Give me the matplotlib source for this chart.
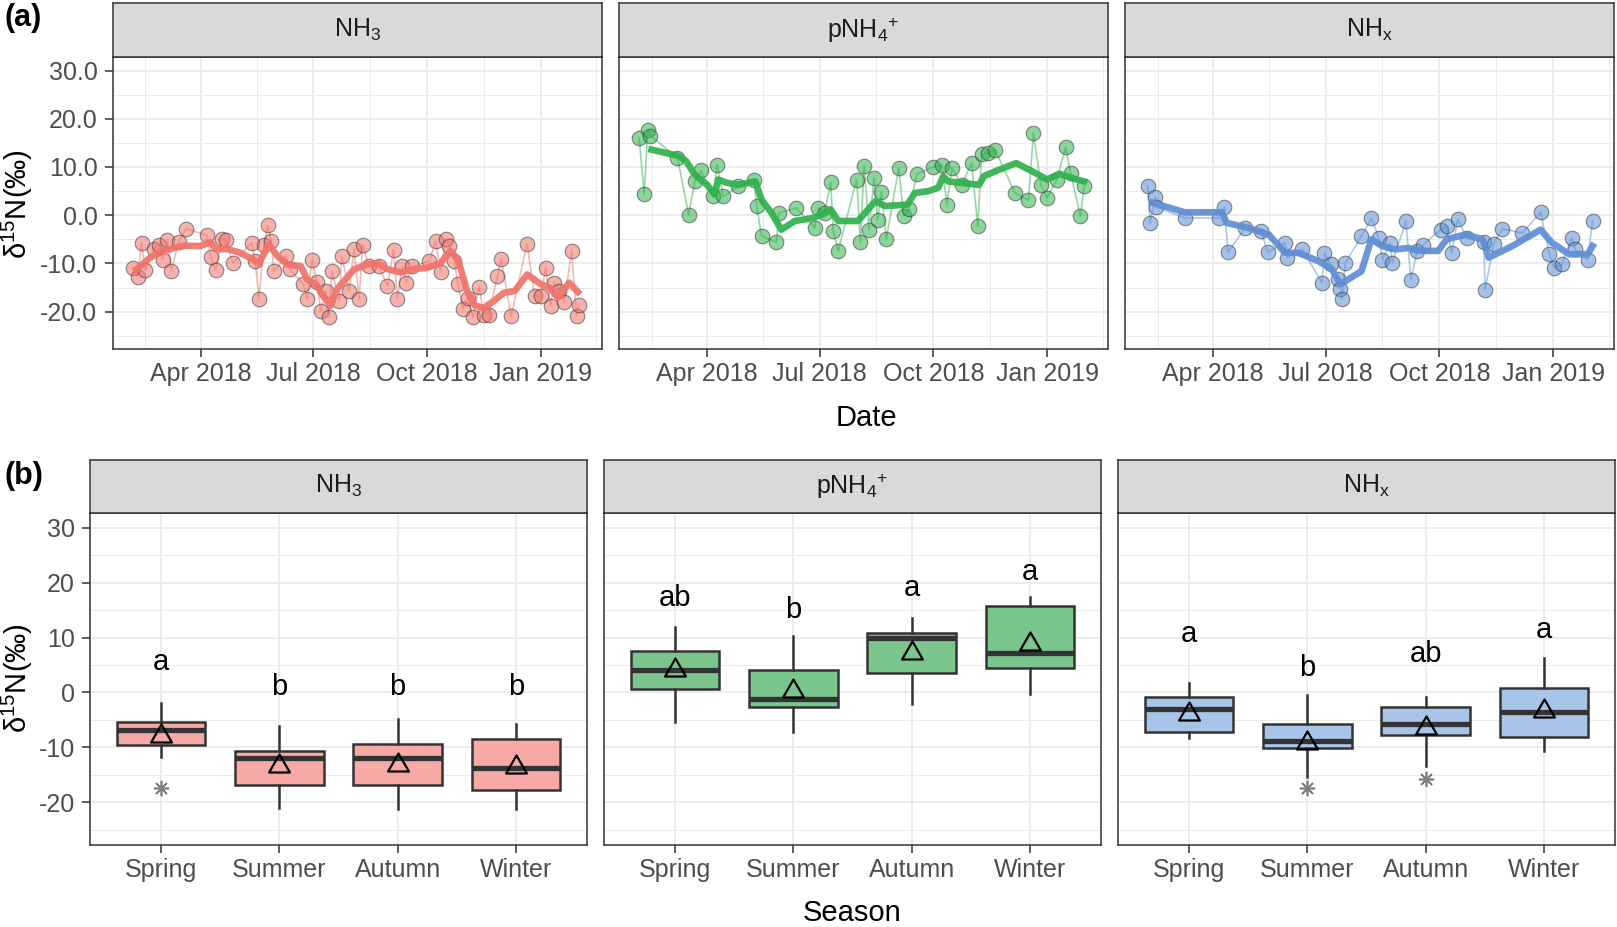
import matplotlib
matplotlib.use("Agg")
import matplotlib.pyplot as plt
import matplotlib.dates as mdates
import matplotlib.ticker as mticker
from matplotlib.colors import to_rgba
from matplotlib.path import Path
import pandas as pd

plt.rcParams['font.family'] = ['Liberation Sans', 'DejaVu Sans']
plt.rcParams['mathtext.fontset'] = 'custom'
plt.rcParams['mathtext.rm'] = 'Liberation Sans'
plt.rcParams['mathtext.it'] = 'Liberation Sans:italic'
plt.rcParams['mathtext.bf'] = 'Liberation Sans:bold'
plt.rcParams['axes.unicode_minus'] = False

# ---------------- data: (a) time series ----------------
species = ['NH$_\\mathrm{3}$', 'pNH$_\\mathrm{4}$$^\\mathrm{+}$', 'NH$_\\mathrm{x}$']
line_colors = ['#F0736A', '#2FB14D', '#5E8ED5']
box_fills = ['#F7AAA5', '#7BC68C', '#A8C4E8']

nh3_dates = ['2018-02-05', '2018-02-09', '2018-02-12', '2018-02-15', '2018-02-22', '2018-02-26',
             '2018-03-01', '2018-03-05', '2018-03-08', '2018-03-14', '2018-03-20', '2018-04-06',
             '2018-04-09', '2018-04-13', '2018-04-18', '2018-04-21', '2018-04-27', '2018-05-12',
             '2018-05-15', '2018-05-18', '2018-05-22', '2018-05-25', '2018-05-28', '2018-05-30',
             '2018-06-09', '2018-06-12', '2018-06-23', '2018-06-26', '2018-06-30', '2018-07-04',
             '2018-07-07', '2018-07-11', '2018-07-14', '2018-07-16', '2018-07-22', '2018-07-24',
             '2018-07-30', '2018-08-03', '2018-08-07', '2018-08-10', '2018-08-15', '2018-08-23',
             '2018-08-30', '2018-09-04', '2018-09-07', '2018-09-11', '2018-09-14', '2018-09-19',
             '2018-10-03', '2018-10-08', '2018-10-12', '2018-10-16', '2018-10-19', '2018-10-23',
             '2018-10-26', '2018-10-30', '2018-11-03', '2018-11-07', '2018-11-12', '2018-11-16',
             '2018-11-20', '2018-11-27', '2018-11-30', '2018-12-08', '2018-12-21', '2018-12-27',
             '2019-01-01', '2019-01-05', '2019-01-09', '2019-01-12', '2019-01-16', '2019-01-20',
             '2019-01-26', '2019-01-30', '2019-02-01']
nh3_vals = [-10.9, -12.8, -5.7, -11.4, -7.0, -6.1, -9.3, -5.2, -11.6, -5.6, -2.8, -4.2,
            -8.6, -11.4, -5.0, -5.2, -9.9, -5.7, -9.5, -17.3, -6.1, -2.1, -5.4, -11.6,
            -8.5, -11.2, -14.3, -17.3, -9.3, -13.9, -19.9, -15.7, -21.2, -11.6, -17.8, -8.5,
            -15.7, -7.0, -17.4, -6.1, -10.6, -10.6, -14.7, -7.2, -17.3, -10.6, -14.0, -10.6,
            -9.5, -5.4, -11.8, -4.9, -6.4, -9.5, -14.3, -19.5, -17.1, -21.2, -14.8, -20.6,
            -20.6, -12.6, -9.0, -21.0, -5.9, -16.8, -16.8, -10.9, -18.8, -14.0, -15.7, -18.1,
            -7.4, -20.9, -18.7]
nh3_smooth_dates = ['2018-02-08', '2018-02-19', '2018-03-02', '2018-03-18', '2018-03-31', '2018-04-09',
                    '2018-04-13', '2018-04-22', '2018-05-03', '2018-05-14', '2018-05-18', '2018-05-26',
                    '2018-06-02', '2018-06-10', '2018-06-21', '2018-06-26', '2018-07-03', '2018-07-08',
                    '2018-07-15', '2018-07-20', '2018-07-27', '2018-08-03', '2018-08-14', '2018-08-22',
                    '2018-08-30', '2018-09-10', '2018-09-20', '2018-10-01', '2018-10-12', '2018-10-20',
                    '2018-10-26', '2018-11-03', '2018-11-09', '2018-11-16', '2018-11-24', '2018-12-02',
                    '2018-12-11', '2018-12-21', '2019-01-01', '2019-01-08', '2019-01-15', '2019-01-24',
                    '2019-01-31']
nh3_smooth_vals = [-11.2, -8.8, -7.4, -6.3, -6.4, -5.6, -7.1, -7.0, -7.8, -9.3, -10.0, -6.1,
                   -8.5, -10.2, -10.6, -13.3, -14.3, -16.4, -18.8, -15.4, -13.3, -11.2, -10.2, -9.9,
                   -11.2, -11.9, -11.2, -10.9, -9.9, -7.4, -9.2, -16.1, -18.8, -19.2, -17.8, -16.1,
                   -15.7, -12.3, -14.3, -15.0, -17.1, -14.0, -15.9]

nh4_dates = ['2018-02-05', '2018-02-09', '2018-02-12', '2018-02-14', '2018-03-08', '2018-03-17',
             '2018-03-22', '2018-03-27', '2018-04-06', '2018-04-09', '2018-04-14', '2018-04-26',
             '2018-05-09', '2018-05-11', '2018-05-15', '2018-05-27', '2018-05-29', '2018-06-12',
             '2018-06-27', '2018-06-30', '2018-07-05', '2018-07-10', '2018-07-12', '2018-07-16',
             '2018-07-31', '2018-08-03', '2018-08-06', '2018-08-10', '2018-08-14', '2018-08-17',
             '2018-08-20', '2018-08-24', '2018-09-03', '2018-09-07', '2018-09-11', '2018-09-18',
             '2018-10-01', '2018-10-08', '2018-10-12', '2018-10-16', '2018-10-24', '2018-11-01',
             '2018-11-06', '2018-11-09', '2018-11-14', '2018-11-20', '2018-12-06', '2018-12-17',
             '2018-12-21', '2018-12-27', '2019-01-01', '2019-01-09', '2019-01-16', '2019-01-20',
             '2019-01-28', '2019-01-31']
nh4_vals = [16.0, 4.3, 17.7, 16.5, 11.9, 0.1, 7.0, 9.3, 3.9, 10.5, 3.9, 6.0,
            7.4, 2.0, -4.3, -5.6, 0.5, 1.5, -2.6, 1.5, 0.5, 6.8, -3.3, -7.4,
            7.4, -5.6, 10.3, -3.0, 7.7, -0.9, 4.8, -4.9, 9.8, -0.1, 1.2, 8.6,
            10.0, 10.5, 2.2, 9.8, 6.3, 10.8, -2.3, 12.6, 12.9, 13.6, 4.6, 3.1,
            17.0, 6.3, 3.6, 7.4, 14.1, 8.8, -0.2, 6.0]
nh4_smooth_dates = ['2018-02-15', '2018-03-09', '2018-03-15', '2018-03-22', '2018-04-01', '2018-04-07',
                    '2018-04-10', '2018-04-17', '2018-04-26', '2018-05-10', '2018-05-15', '2018-05-23',
                    '2018-05-31', '2018-06-11', '2018-06-25', '2018-07-03', '2018-07-10', '2018-07-16',
                    '2018-08-01', '2018-08-08', '2018-08-15', '2018-08-23', '2018-09-10', '2018-09-16',
                    '2018-09-27', '2018-10-05', '2018-10-09', '2018-10-13', '2018-10-24', '2018-11-07',
                    '2018-11-11', '2018-11-20', '2018-12-07', '2018-12-20', '2019-01-01', '2019-01-11',
                    '2019-01-21', '2019-01-31']
nh4_smooth_vals = [13.6, 12.3, 11.2, 8.4, 6.3, 4.3, 7.4, 6.7, 6.3, 7.0, 3.2, 0.5,
                   -3.0, -1.2, -0.6, 0.1, 1.2, -1.2, -1.2, 0.8, 2.9, 1.9, 2.2, 4.6,
                   5.0, 5.7, 8.1, 7.0, 6.7, 6.3, 8.1, 9.1, 10.8, 9.1, 7.4, 8.6,
                   7.7, 7.0]

nhx_dates = ['2018-02-07', '2018-02-09', '2018-02-13', '2018-02-14', '2018-03-09', '2018-04-06',
             '2018-04-10', '2018-04-13', '2018-04-27', '2018-05-10', '2018-05-15', '2018-05-29',
             '2018-05-31', '2018-06-12', '2018-06-28', '2018-06-30', '2018-07-05', '2018-07-11',
             '2018-07-13', '2018-07-14', '2018-07-17', '2018-07-30', '2018-08-07', '2018-08-13',
             '2018-08-16', '2018-08-22', '2018-08-24', '2018-09-04', '2018-09-08', '2018-09-13',
             '2018-09-18', '2018-10-02', '2018-10-07', '2018-10-11', '2018-10-16', '2018-10-23',
             '2018-11-06', '2018-11-07', '2018-11-14', '2018-11-21', '2018-12-07', '2018-12-22',
             '2018-12-29', '2019-01-02', '2019-01-08', '2019-01-16', '2019-01-19', '2019-01-29',
             '2019-02-02']
nhx_vals = [6.1, -1.7, 3.8, 1.7, -0.6, -0.6, 1.7, -7.7, -2.6, -3.3, -7.7, -5.7,
            -8.8, -7.0, -14.0, -7.9, -10.2, -13.3, -15.4, -17.4, -9.9, -4.3, -0.6, -4.7,
            -9.2, -5.7, -9.9, -1.2, -13.4, -7.4, -6.1, -3.0, -2.3, -7.8, -0.8, -4.7,
            -5.6, -15.5, -5.9, -2.8, -3.7, 0.6, -8.1, -10.9, -10.2, -4.7, -7.1, -9.2,
            -1.2]
nhx_smooth_dates = ['2018-02-11', '2018-03-09', '2018-04-08', '2018-04-12', '2018-04-29', '2018-05-16',
                    '2018-05-29', '2018-06-09', '2018-06-25', '2018-07-06', '2018-07-13', '2018-07-30',
                    '2018-08-07', '2018-08-16', '2018-08-26', '2018-09-06', '2018-09-14', '2018-09-30',
                    '2018-10-07', '2018-10-22', '2018-11-05', '2018-11-10', '2018-11-29', '2018-12-22',
                    '2018-12-31', '2019-01-14', '2019-01-29', '2019-02-02']
nhx_smooth_vals = [2.6, 0.6, 0.6, -1.6, -2.6, -4.0, -7.8, -7.8, -9.5, -11.2, -14.3, -11.6,
                   -5.0, -6.4, -7.1, -6.8, -7.4, -7.4, -5.0, -4.0, -5.0, -8.8, -6.4, -3.0,
                   -5.7, -8.1, -8.1, -6.4]

# ---------------- data: (b) seasonal boxes ----------------
seasons = ['Spring', 'Summer', 'Autumn', 'Winter']

nh3_whislo = [-11.7, -21.0, -21.2, -21.2]
nh3_q1 = [-9.6, -16.9, -16.9, -17.7]
nh3_med = [-6.8, -12.0, -12.0, -13.7]
nh3_q3 = [-5.3, -10.7, -9.4, -8.5]
nh3_whishi = [-2.0, -6.1, -4.9, -5.7]
nh3_mean = [-7.3, -12.9, -12.6, -13.0]
nh3_out = [[-17.3], [], [], []]
nh3_letters = ['a', 'b', 'b', 'b']
nh3_letter_y = [4.1, -0.4, -0.4, -0.4]

nh4_whislo = [-5.3, -7.2, -2.1, -0.2]
nh4_q1 = [0.6, -2.6, 3.5, 4.4]
nh4_med = [4.1, -1.1, 9.9, 7.1]
nh4_q3 = [7.5, 4.1, 10.8, 15.7]
nh4_whishi = [12.0, 10.3, 13.5, 17.4]
nh4_mean = [4.6, 0.9, 7.8, 9.4]
nh4_out = [[], [], [], []]
nh4_letters = ['ab', 'b', 'a', 'a']
nh4_letter_y = [15.7, 13.5, 17.6, 20.5]

nhx_whislo = [-8.2, -15.3, -13.4, -10.6]
nhx_q1 = [-7.1, -10.1, -7.7, -8.1]
nhx_med = [-3.0, -8.8, -5.8, -3.6]
nhx_q3 = [-0.9, -5.8, -2.7, 0.8]
nhx_whishi = [1.7, -0.5, -0.9, 6.3]
nhx_mean = [-3.4, -8.6, -5.9, -2.9]
nhx_out = [[], [-17.3], [-15.7], []]
nhx_letters = ['a', 'b', 'ab', 'a']
nhx_letter_y = [9.1, 3.0, 5.5, 10.0]

series = [
    (nh3_dates, nh3_vals, nh3_smooth_dates, nh3_smooth_vals),
    (nh4_dates, nh4_vals, nh4_smooth_dates, nh4_smooth_vals),
    (nhx_dates, nhx_vals, nhx_smooth_dates, nhx_smooth_vals),
]
boxes = [
    (nh3_whislo, nh3_q1, nh3_med, nh3_q3, nh3_whishi, nh3_mean, nh3_out, nh3_letters, nh3_letter_y),
    (nh4_whislo, nh4_q1, nh4_med, nh4_q3, nh4_whishi, nh4_mean, nh4_out, nh4_letters, nh4_letter_y),
    (nhx_whislo, nhx_q1, nhx_med, nhx_q3, nhx_whishi, nhx_mean, nhx_out, nhx_letters, nhx_letter_y),
]

# ---------------- layout helpers (pixel based) ----------------
W, H = 1617, 927
fig = plt.figure(figsize=(W / 100, H / 100), dpi=100)

DARK = '#333333'
GRID = '#EBEBEB'


def px_axes(x0, y0, x1, y1):
    return fig.add_axes([x0 / W, 1 - y1 / H, (x1 - x0) / W, (y1 - y0) / H])


def strip(x0, y0, x1, y1, label):
    s = px_axes(x0, y0, x1, y1)
    s.set_facecolor('#D9D9D9')
    s.set_xticks([])
    s.set_yticks([])
    for sp in s.spines.values():
        sp.set_color(DARK)
        sp.set_linewidth(1.1)
    s.text(0.5, 0.5, label, transform=s.transAxes, ha='center', va='center',
           fontsize=18, color='#1A1A1A')


def panel_style(ax, first):
    ax.set_axisbelow(True)
    for sp in ax.spines.values():
        sp.set_color(DARK)
        sp.set_linewidth(1.1)
    ax.grid(which='major', color=GRID, lw=1.3)
    ax.grid(which='minor', color=GRID, lw=0.7)
    ax.set_ylim(-27.75, 32.75)
    ax.set_yticks([-20, -10, 0, 10, 20, 30])
    ax.set_yticks([-25, -15, -5, 5, 15, 25], minor=True)
    ax.tick_params(which='major', length=5.5, width=1.1, color=DARK,
                   labelcolor='#4D4D4D', labelsize=18)
    ax.tick_params(axis='y', pad=5.5)
    ax.tick_params(axis='x', pad=4)
    ax.tick_params(which='minor', length=0)
    if not first:
        ax.tick_params(axis='y', left=False, labelleft=False)


# ---------------- (a) time series ----------------
top_left = [112.7, 619, 1125]
top_w = 489
major_dates = pd.to_datetime(['2018-01-01', '2018-04-01', '2018-07-01', '2018-10-01',
                              '2019-01-01', '2019-04-01'])
minor_dates = [major_dates[k] + (major_dates[k + 1] - major_dates[k]) / 2
               for k in range(len(major_dates) - 1)]

for i, (x0, (d, v, sd, sv)) in enumerate(zip(top_left, series)):
    ax = px_axes(x0, 57.3, x0 + top_w, 349)
    strip(x0, 3.3, x0 + top_w, 57.3, species[i])
    col = line_colors[i]
    dd = pd.to_datetime(d)
    ax.plot(dd, v, color=col, alpha=0.5, lw=1.2, zorder=2)
    ax.plot(dd, v, 'o', ms=10.5, mfc=to_rgba(col, 0.55), mec=(0.2, 0.2, 0.2, 0.55),
            mew=0.8, zorder=3)
    ax.plot(pd.to_datetime(sd), sv, color=col, lw=4.8, alpha=0.92, zorder=4,
            solid_joinstyle='round')
    panel_style(ax, i == 0)
    ax.set_xlim(pd.Timestamp('2018-01-19 16:00'), pd.Timestamp('2019-02-19 08:00'))
    ax.xaxis.set_major_locator(mdates.MonthLocator(bymonth=[1, 4, 7, 10]))
    ax.xaxis.set_major_formatter(mdates.DateFormatter('%b %Y'))
    ax.xaxis.set_minor_locator(mticker.FixedLocator(mdates.date2num(minor_dates)))
    if i == 0:
        ax.yaxis.set_major_formatter(mticker.FormatStrFormatter('%.1f'))

# ---------------- (b) seasonal box plots ----------------
bot_left = [90, 604, 1118]
bot_w = 497
# open triangle for the mean (closed path)
tri = Path([(-1, -0.866), (1, -0.866), (0, 0.866), (0, 0)], closed=True)
pos = [1, 2, 3, 4]

for i, (x0, b) in enumerate(zip(bot_left, boxes)):
    lo, q1, med, q3, hi, mean, out, letters, ly = b
    ax = px_axes(x0, 512.5, x0 + bot_w, 845)
    strip(x0, 460, x0 + bot_w, 512.5, species[i])
    stats = []
    for k in range(4):
        stats.append(dict(whislo=lo[k], q1=q1[k], med=med[k], q3=q3[k], whishi=hi[k],
                          mean=mean[k], fliers=out[k]))
    ax.bxp(stats, positions=pos, widths=0.75, patch_artist=True, showmeans=True,
           showcaps=False,
           boxprops=dict(facecolor=box_fills[i], edgecolor=DARK, lw=1.8),
           medianprops=dict(color=DARK, lw=3.8, solid_capstyle='butt'),
           whiskerprops=dict(color=DARK, lw=1.8),
           meanprops=dict(marker=tri, ms=15, mfc='none', mec='black', mew=1.6),
           flierprops=dict(marker=(8, 2, 0), ms=11, mec='#7F7F7F', mew=1.2))
    for k in range(4):
        ax.text(pos[k], ly[k], letters[k], ha='center', va='baseline', fontsize=21,
                color='black')
    panel_style(ax, i == 0)
    ax.set_xlim(0.4, 4.6)
    ax.set_xticks(pos)
    ax.set_xticklabels(seasons)

# ---------------- titles and panel tags ----------------
ylab = 'δ$^\\mathrm{15}$N(‰)'
fig.text(866 / W, 1 - 418 / H, 'Date', ha='center', va='center', fontsize=21)
fig.text(852 / W, 1 - 913 / H, 'Season', ha='center', va='center', fontsize=21)
fig.text(17.5 / W, 1 - 204 / H, ylab, rotation=90, ha='center', va='center', fontsize=21)
fig.text(17.5 / W, 1 - 678 / H, ylab, rotation=90, ha='center', va='center', fontsize=21)
fig.text(4 / W, 1 - 18 / H, '(a)', ha='left', va='center', fontsize=22, fontweight='bold')
fig.text(4 / W, 1 - 476 / H, '(b)', ha='left', va='center', fontsize=22, fontweight='bold')

fig.savefig('out.png', dpi=100)
